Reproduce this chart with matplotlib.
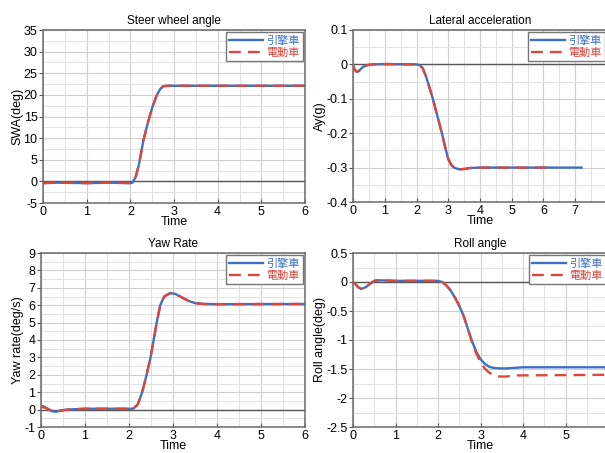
import matplotlib
matplotlib.use("Agg")
import matplotlib.pyplot as plt
from matplotlib.ticker import MultipleLocator, FormatStrFormatter

plt.rcParams['font.family'] = ['Liberation Sans', 'Noto Sans CJK TC', 'DejaVu Sans']
plt.rcParams['axes.unicode_minus'] = False

labels = ["引擎車", "電動車"]

# Steer wheel angle
swa_t = [0, 0.3, 1.0, 1.5, 2.0, 2.05, 2.12, 2.2, 2.3, 2.4, 2.5, 2.6, 2.68, 2.75, 2.85, 4.0, 6.0]
swa_engine = [-0.4, -0.3, -0.4, -0.3, -0.4, -0.3, 1.0, 4.0, 9.5, 13.5, 17.0, 19.8, 21.3, 22.0, 22.1, 22.1, 22.1]
swa_electric = [-0.4, -0.3, -0.4, -0.3, -0.4, -0.3, 1.0, 4.0, 9.5, 13.5, 17.0, 19.8, 21.3, 22.0, 22.1, 22.1, 22.1]

# Lateral acceleration
ay_t = [0, 0.05, 0.12, 0.2, 0.3, 0.45, 0.6, 1.0, 2.0, 2.1, 2.2, 2.3, 2.4, 2.5, 2.6, 2.7,
        2.8, 2.9, 3.0, 3.1, 3.2, 3.35, 3.5, 3.7, 4.0, 6.1, 7.2]
ay_engine = [0, -0.015, -0.022, -0.018, -0.008, -0.002, 0.0, 0.001, 0.0, -0.002, -0.012, -0.035,
             -0.065, -0.095, -0.13, -0.165, -0.2, -0.24, -0.275, -0.293, -0.301, -0.305, -0.304,
             -0.301, -0.3, -0.3, -0.3]
ay_electric = ay_engine[:-1]

# Yaw rate
yaw_t = [0, 0.05, 0.15, 0.25, 0.35, 0.45, 0.6, 1.0, 2.0, 2.1, 2.2, 2.3, 2.4, 2.49, 2.56, 2.63,
         2.71, 2.8, 2.93, 3.05, 3.2, 3.35, 3.5, 3.7, 4.0, 6.0]
yaw_engine = [0.15, 0.2, 0.05, -0.1, -0.12, -0.05, 0.0, 0.05, 0.05, 0.06, 0.3, 1.0, 2.0, 3.0, 4.0, 5.0,
              6.0, 6.5, 6.7, 6.65, 6.45, 6.25, 6.12, 6.07, 6.06, 6.07]
yaw_electric = [0.1, 0.15, 0.05, -0.08, -0.12, -0.06, 0.0, 0.05, 0.05, 0.06, 0.3, 1.0, 2.0, 3.0, 4.0, 5.0,
                6.0, 6.5, 6.68, 6.65, 6.45, 6.25, 6.12, 6.07, 6.06, 6.07]

# Roll angle
roll_t = [0, 0.05, 0.12, 0.2, 0.3, 0.4, 0.5, 0.6, 1.0, 2.0, 2.1, 2.2, 2.3, 2.4, 2.5, 2.6, 2.7,
          2.8, 2.9, 3.0, 3.1, 3.2, 3.3, 3.45, 3.6, 3.8, 4.0, 6.0]
roll_engine = [0, -0.03, -0.09, -0.12, -0.09, -0.03, 0.02, 0.03, 0.02, 0.02, 0.0, -0.06, -0.15, -0.27,
               -0.41, -0.58, -0.8, -1.02, -1.2, -1.33, -1.41, -1.46, -1.48, -1.49, -1.49, -1.48, -1.47, -1.47]
roll_electric = [0, -0.03, -0.09, -0.12, -0.09, -0.03, 0.02, 0.03, 0.02, 0.02, 0.0, -0.06, -0.15, -0.27,
                 -0.41, -0.58, -0.8, -1.04, -1.23, -1.38, -1.49, -1.56, -1.60, -1.63, -1.63, -1.61, -1.61, -1.60]

blue = '#3f70c4'
red = '#d9483f'

W, H = 605, 453
fig = plt.figure(figsize=(W / 100, H / 100), dpi=100)


def px(left, top, right, bottom):
    return [left / W, 1 - bottom / H, (right - left) / W, (bottom - top) / H]


panels = [
    dict(rect=px(43, 30, 305, 203), t=swa_t, a=swa_engine, b=swa_electric, t_b=swa_t,
         title="Steer wheel angle", ylabel="SWA(deg)", xlim=(0, 6), ylim=(-5, 35), ymaj=5, xmax_lab=6),
    dict(rect=px(353, 30, 607, 202), t=ay_t, a=ay_engine, b=ay_electric, t_b=ay_t[:-1],
         title="Lateral acceleration", ylabel="Ay(g)", xlim=(0, 8), ylim=(-0.4, 0.1), ymaj=0.1, xmax_lab=7),
    dict(rect=px(41, 253, 305, 427), t=yaw_t, a=yaw_engine, b=yaw_electric, t_b=yaw_t,
         title="Yaw Rate", ylabel="Yaw rate(deg/s)", xlim=(0, 6), ylim=(-1, 9), ymaj=1, xmax_lab=6),
    dict(rect=px(353, 253, 608, 427), t=roll_t, a=roll_engine, b=roll_electric, t_b=roll_t,
         title="Roll angle", ylabel="Roll angle(deg)", xlim=(0, 6), ylim=(-2.5, 0.5), ymaj=0.5, xmax_lab=5),
]

for p in panels:
    ax = fig.add_axes(p['rect'])
    ax.axhline(0, color='#555555', lw=1.0, zorder=1)
    ax.plot(p['t'], p['a'], color=blue, lw=1.7, label=labels[0], zorder=3)
    ax.plot(p['t_b'], p['b'], color=red, lw=1.7, dashes=(5, 3), label=labels[1], zorder=4)
    ax.set_xlim(*p['xlim'])
    ax.set_ylim(*p['ylim'])
    ax.xaxis.set_major_locator(MultipleLocator(1))
    ax.xaxis.set_minor_locator(MultipleLocator(0.5))
    ax.yaxis.set_major_locator(MultipleLocator(p['ymaj']))
    ax.yaxis.set_minor_locator(MultipleLocator(p['ymaj'] / 2))
    ax.yaxis.set_major_formatter(FormatStrFormatter('%g'))
    lim = p['xmax_lab']
    ax.xaxis.set_major_formatter(lambda v, pos, lim=lim: '%g' % v if v <= lim + 1e-9 else '')
    ax.grid(which='major', color='#cfcfcf', lw=0.8)
    ax.grid(which='minor', color='#e2e2e2', lw=0.7)
    ax.set_axisbelow(True)
    ax.tick_params(which='major', length=3, width=0.8, pad=1, labelsize=9, color='#555555')
    ax.tick_params(axis='x', which='major', direction='in', pad=2)
    ax.tick_params(which='minor', length=0)
    for s in ax.spines.values():
        s.set_color('#6a6a6a')
        s.set_linewidth(1.1)
    ax.set_title(p['title'], fontsize=8.5, pad=4)
    ax.set_xlabel("Time", fontsize=9, labelpad=-1)
    ax.set_ylabel(p['ylabel'], fontsize=9, labelpad=0)
    leg = ax.legend(loc='upper right', fontsize=8, handlelength=3.0, handletextpad=0.3,
                    borderpad=0.3, borderaxespad=0.2, labelspacing=0.2, fancybox=False, framealpha=1)
    leg.get_frame().set_edgecolor('#777777')
    leg.get_frame().set_linewidth(1.0)
    for txt, c in zip(leg.get_texts(), [blue, red]):
        txt.set_color(c)
        txt.set_family(['Noto Sans CJK TC', 'DejaVu Sans'])

fig.savefig("out.png", dpi=100)
